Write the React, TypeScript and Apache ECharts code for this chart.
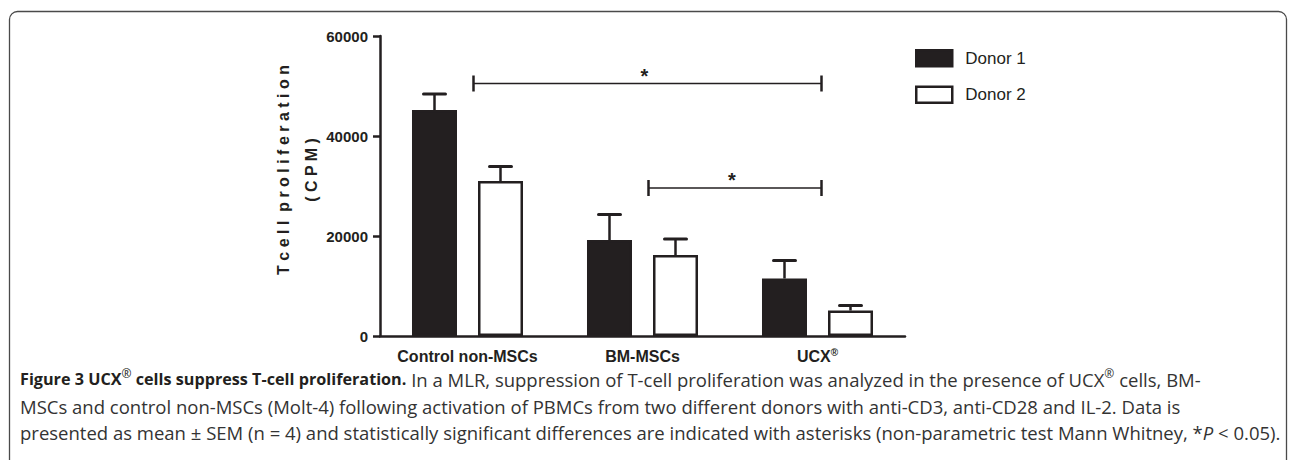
import React, { useEffect, useRef } from 'react';
import * as echarts from 'echarts';

const categories = ['Control non-MSCs', 'BM-MSCs', 'UCX®'];
const seriesNames = ['Donor 1', 'Donor 2'];
const donor1 = [45200, 19200, 11500];
const donor2 = [31000, 16200, 5100];
const donor1Sem = [3200, 5100, 3600];
const donor2Sem = [2900, 3200, 1000];
// [from category, to category, bracket height]
const brackets = [
  [0, 2, 50500],
  [1, 2, 29600],
];
const yMax = 60000;
const yStep = 20000;
const yTitle = 'T c e l l  p r o l i f e r a t i o n\n( C P M )';

const captionLine1 =
  '{b|Figure 3 UCX}{bs|®}{b| cells suppress T-cell proliferation.}{r| In a MLR, suppression of T-cell proliferation was analyzed in the presence of UCX}{rs|®}{r| cells, BM-}';
const captionLine2 =
  '{r|MSCs and control non-MSCs (Molt-4) following activation of PBMCs from two different donors with anti-CD3, anti-CD28 and IL-2. Data is}';
const captionLine3 =
  '{r|presented as mean ± SEM (n = 4) and statistically significant differences are indicated with asterisks (non-parametric test Mann Whitney, *}{ri|P}{r| < 0.05).}';

const INK = '#231f20';
const FONT = '"Liberation Sans", Arial, Helvetica, sans-serif';
const CAP_FONT = '"Open Sans", "Noto Sans", sans-serif';
const BAR_W = 45;
const BAR_OFF = 33;

export default function App() {
  const ref = useRef<HTMLDivElement>(null);

  useEffect(() => {
    document.body.style.margin = '0';
    if (!ref.current) return;
    const chart = echarts.init(ref.current, null, { renderer: 'svg' });

    const capRich = {
      b: { fontFamily: CAP_FONT, fontWeight: 'bold', fontSize: 16.2, fill: INK, lineHeight: 24 },
      bs: { fontFamily: CAP_FONT, fontWeight: 'normal', fontSize: 12, fill: INK, lineHeight: 14, verticalAlign: 'top' },
      r: { fontFamily: CAP_FONT, fontWeight: 'normal', fontSize: 18.5, fill: '#333333', lineHeight: 24 },
      rs: { fontFamily: CAP_FONT, fontWeight: 'normal', fontSize: 12, fill: '#333333', lineHeight: 14, verticalAlign: 'top' },
      ri: { fontFamily: CAP_FONT, fontWeight: 'normal', fontStyle: 'italic', fontSize: 18.5, fill: '#333333', lineHeight: 24 },
    };

    const errorSeries = (vals: number[], sems: number[], off: number) => ({
      type: 'custom',
      silent: true,
      z: 5,
      encode: { x: 0, y: 1 },
      data: vals.map((v, i) => [i, v, sems[i]]),
      renderItem: (params: any, api: any) => {
        const i = api.value(0);
        const m = api.value(1);
        const s = api.value(2);
        const base = api.coord([i, m]);
        const top = api.coord([i, m + s]);
        const x = base[0] + off;
        return {
          type: 'group',
          children: [
            { type: 'line', shape: { x1: x, y1: base[1], x2: x, y2: top[1] }, style: { stroke: INK, lineWidth: 2.5 } },
            { type: 'line', shape: { x1: x - 11, y1: top[1], x2: x + 11, y2: top[1] }, style: { stroke: INK, lineWidth: 3, lineCap: 'round' } },
          ],
        };
      },
    });

    chart.setOption({
      animation: false,
      textStyle: { fontFamily: FONT },
      grid: { left: 380, top: 36, width: 525, bottom: 124, containLabel: false },
      legend: {
        orient: 'vertical',
        left: 910,
        top: 44,
        itemWidth: 36,
        itemHeight: 16,
        itemGap: 18,
        icon: 'rect',
        data: seriesNames,
        itemStyle: { borderWidth: 2.5 },
        textStyle: { fontSize: 17, color: INK, fontFamily: FONT, padding: [0, 0, 0, 8] },
        selectedMode: false,
      },
      xAxis: {
        type: 'category',
        data: categories,
        boundaryGap: true,
        axisLine: { lineStyle: { color: INK, width: 2.5 } },
        axisTick: { alignWithLabel: true, length: 8, lineStyle: { color: INK, width: 2.5 } },
        axisLabel: {
          interval: 0,
          fontSize: 16,
          fontWeight: 'bold',
          color: INK,
          margin: 11,
          lineHeight: 18,
          formatter: (v: string) => v.replace('®', '{s|®}'),
          rich: { s: { fontSize: 10, fontWeight: 'bold', color: INK, lineHeight: 10, verticalAlign: 'top' } },
        },
        splitLine: { show: false },
      },
      yAxis: {
        type: 'value',
        min: 0,
        max: yMax,
        interval: yStep,
        axisLine: { show: true, lineStyle: { color: INK, width: 2.5 } },
        axisTick: { show: true, length: 7, lineStyle: { color: INK, width: 2.5 } },
        axisLabel: { fontSize: 15, fontWeight: 'bold', color: INK, margin: 12, formatter: (v: number) => String(v) },
        splitLine: { show: false },
      },
      series: [
        {
          name: seriesNames[0],
          type: 'bar',
          data: donor1,
          barWidth: BAR_W,
          barGap: '46.7%',
          itemStyle: { color: INK, borderColor: INK, borderWidth: 2.5 },
        },
        {
          name: seriesNames[1],
          type: 'bar',
          data: donor2,
          barWidth: BAR_W,
          barGap: '46.7%',
          itemStyle: { color: '#ffffff', borderColor: INK, borderWidth: 2.5 },
        },
        errorSeries(donor1, donor1Sem, -BAR_OFF),
        errorSeries(donor2, donor2Sem, BAR_OFF),
        {
          type: 'custom',
          silent: true,
          z: 6,
          encode: { x: [0, 1], y: 2 },
          data: brackets,
          renderItem: (params: any, api: any) => {
            const a = api.coord([api.value(0), api.value(2)]);
            const b = api.coord([api.value(1), api.value(2)]);
            const x1 = a[0] + 6;
            const x2 = b[0] + 4;
            const y = a[1];
            return {
              type: 'group',
              children: [
                { type: 'line', shape: { x1, y1: y, x2, y2: y }, style: { stroke: INK, lineWidth: 1.5 } },
                { type: 'line', shape: { x1, y1: y - 8, x2: x1, y2: y + 8 }, style: { stroke: INK, lineWidth: 2.5 } },
                { type: 'line', shape: { x1: x2, y1: y - 8, x2, y2: y + 8 }, style: { stroke: INK, lineWidth: 2.5 } },
                {
                  type: 'text',
                  x: (x1 + x2) / 2 - 3,
                  y: y - 8,
                  style: { text: '*', fontSize: 20, fontWeight: 'bold', fontFamily: FONT, fill: INK, align: 'center', verticalAlign: 'middle' },
                },
              ],
            };
          },
        },
      ],
      graphic: [
        {
          type: 'rect',
          shape: { x: 9.5, y: 11.5, width: 1277, height: 480, r: 8 },
          style: { fill: 'none', stroke: '#4a4a4a', lineWidth: 1.3 },
          silent: true,
        },
        {
          type: 'text',
          x: 297,
          y: 170,
          rotation: Math.PI / 2,
          style: {
            text: yTitle,
            fontSize: 16,
            fontWeight: 'bold',
            fontFamily: FONT,
            fill: INK,
            align: 'center',
            verticalAlign: 'middle',
            lineHeight: 28,
          },
          silent: true,
        },
        { type: 'text', x: 20, y: 379, style: { text: captionLine1, rich: capRich, verticalAlign: 'middle', align: 'left' }, silent: true },
        { type: 'text', x: 20, y: 406, style: { text: captionLine2, rich: capRich, verticalAlign: 'middle', align: 'left' }, silent: true },
        { type: 'text', x: 20, y: 432, style: { text: captionLine3, rich: capRich, verticalAlign: 'middle', align: 'left' }, silent: true },
      ],
    });

    return () => chart.dispose();
  }, []);

  return <div ref={ref} style={{ width: 1290, height: 460 }} />;
}
